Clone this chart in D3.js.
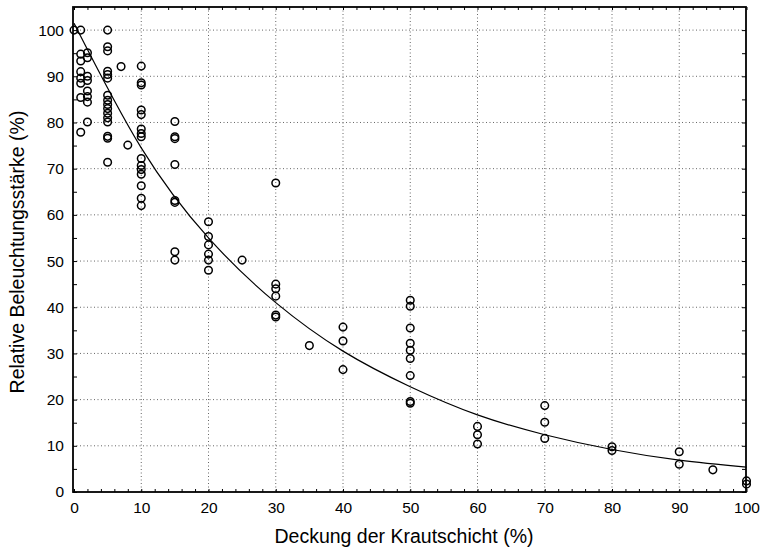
<!DOCTYPE html>
<html>
<head>
<meta charset="utf-8">
<script src="https://cdn.jsdelivr.net/npm/d3@7"></script>
<style>
  body { margin: 0; background: #fff; }
  text { font-family: "Liberation Sans", Arial, sans-serif; fill: #000; }
</style>
</head>
<body>
<div id="chart"></div>
<script>
// data: Deckung der Krautschicht (%) vs. relative Beleuchtungsstärke (%)
const cover = [
  0,
  1, 1, 1, 1, 1, 1, 1, 1,
  2, 2, 2, 2, 2, 2, 2, 2,
  5, 5, 5, 5, 5, 5, 5, 5, 5, 5, 5, 5, 5, 5, 5, 5,
  7, 8,
  10, 10, 10, 10, 10, 10, 10, 10, 10, 10, 10, 10, 10, 10, 10,
  15, 15, 15, 15, 15, 15, 15, 15,
  20, 20, 20, 20, 20, 20,
  25,
  30, 30, 30, 30, 30, 30,
  35,
  40, 40, 40,
  50, 50, 50, 50, 50, 50, 50, 50, 50,
  60, 60, 60,
  70, 70, 70,
  80, 80,
  90, 90,
  95,
  100, 100
]
const light = [
  100,
  100, 94.8, 93.3, 91, 89.6, 88.5, 85.4, 77.9,
  95.1, 94, 90, 89.1, 86.8, 85.6, 84.4, 80.1,
  100, 96.4, 95.5, 91.1, 90.4, 89.6, 85.9, 84.8, 83.9, 83, 82, 81, 80.1, 77, 76.6, 71.4,
  92.1, 75.1,
  92.2, 88.6, 88.1, 82.7, 81.7, 78.6, 77.6, 76.9, 72.2, 70.7, 69.8, 68.8, 66.3, 63.6, 62,
  80.2, 76.9, 76.5, 70.9, 63.1, 62.7, 52, 50.2,
  58.5, 55.3, 53.5, 51.5, 50.2, 48,
  50.2,
  66.9, 45, 44, 42.4, 38.3, 37.9,
  31.7,
  35.7, 32.7, 26.5,
  41.5, 40.2, 35.5, 32.2, 30.7, 28.9, 25.2, 19.6, 19.2,
  14.2, 12.4, 10.4,
  18.7, 15.1, 11.6,
  9.8, 9.0,
  8.7, 6.0,
  4.8,
  2.4, 1.7
]

// fitted curve at every 10 %
const fitX = [0, 10, 20, 30, 40, 50, 60, 70, 80, 90, 100]
const fitY = [101.5, 74.5, 55, 41, 30.5, 22.8, 16.7, 12.4, 9.2, 6.9, 5.4]

const xTicks = [0, 10, 20, 30, 40, 50, 60, 70, 80, 90, 100]
const yTicks = [0, 10, 20, 30, 40, 50, 60, 70, 80, 90, 100]

const xTitle = "Deckung der Krautschicht (%)"
const yTitle = "Relative Beleuchtungsstärke (%)"

// const
const width = 765
const height = 550
const frame = { left: 73, right: 746, top: 7, bottom: 492 }

const svg = d3.select("#chart")
    .append("svg")
      .attr("width", width)
      .attr("height", height)

const x = d3.scaleLinear()
    .domain([0, 100])
    .range([74, 746.5])

const y = d3.scaleLinear()
    .domain([0, 105])
    .range([492, 7])

// gridlines (dotted)
let grid = svg.append("g").attr("id", "grid")
    .attr("stroke", "#666")
    .attr("stroke-width", 1)
    .attr("stroke-dasharray", "1,2.5")

grid.selectAll(".vline")
    .data(xTicks.filter(d => d > 0 && d < 100))
    .join("line")
      .attr("class", "vline")
      .attr("x1", d => x(d)).attr("x2", d => x(d))
      .attr("y1", frame.top).attr("y2", frame.bottom)

grid.selectAll(".hline")
    .data(yTicks.filter(d => d > 0))
    .join("line")
      .attr("class", "hline")
      .attr("x1", frame.left).attr("x2", frame.right)
      .attr("y1", d => y(d)).attr("y2", d => y(d))

// minor ticks, pointing inwards
let minor = svg.append("g").attr("id", "minor")
const xMinor = d3.range(0, 101, 2)
const yMinor = d3.range(0, 105, 5)

minor.append("g")
    .attr("transform", `translate(0,${frame.bottom})`)
    .call(d3.axisBottom(x).tickValues(xMinor).tickSize(-3).tickFormat(""))
minor.append("g")
    .attr("transform", `translate(0,${frame.top})`)
    .call(d3.axisTop(x).tickValues(xMinor).tickSize(-3).tickFormat(""))
minor.append("g")
    .attr("transform", `translate(${frame.left},0)`)
    .call(d3.axisLeft(y).tickValues(yMinor).tickSize(-4).tickFormat(""))
minor.append("g")
    .attr("transform", `translate(${frame.right},0)`)
    .call(d3.axisRight(y).tickValues(yMinor).tickSize(-4).tickFormat(""))
minor.selectAll(".domain").remove()
minor.selectAll("line").attr("stroke", "#000").attr("stroke-width", 1)

// labelled axes
let xAxisGroup = svg.append("g")
    .attr("id", "xAxisGroup")
    .attr("transform", `translate(0,${frame.bottom})`)
    .call(d3.axisBottom(x).tickValues(xTicks).tickSize(0).tickPadding(10))
let yAxisGroup = svg.append("g")
    .attr("id", "yAxisGroup")
    .attr("transform", `translate(${frame.left},0)`)
    .call(d3.axisLeft(y).tickValues(yTicks).tickSize(0).tickPadding(9))

svg.selectAll("#xAxisGroup .domain, #yAxisGroup .domain").remove()
svg.selectAll("#xAxisGroup text, #yAxisGroup text")
    .style("font-size", "15.5px")
    .style("font-family", "'Liberation Sans', Arial, sans-serif")
    .attr("fill", "#000")

// frame
svg.append("rect")
    .attr("x", frame.left).attr("y", frame.top)
    .attr("width", frame.right - frame.left).attr("height", frame.bottom - frame.top)
    .attr("fill", "none")
    .attr("stroke", "#000")
    .attr("stroke-width", 1.8)

// fitted curve
svg.append("path")
    .datum(fitX.map((d, i) => [d, fitY[i]]))
    .attr("fill", "none")
    .attr("stroke", "#000")
    .attr("stroke-width", 1.2)
    .attr("d", d3.line()
        .x(d => x(d[0]))
        .y(d => y(d[1]))
        .curve(d3.curveNatural))

// points
svg.append("g").attr("id", "points")
  .selectAll("circle")
  .data(cover.map((d, i) => [d, light[i]]))
  .join("circle")
    .attr("cx", d => x(d[0]))
    .attr("cy", d => y(d[1]))
    .attr("r", 3.8)
    .attr("fill", "none")
    .attr("stroke", "#000")
    .attr("stroke-width", 1.5)

// titles
svg.append("text")
    .attr("x", 404)
    .attr("y", 543)
    .attr("text-anchor", "middle")
    .style("font-size", "19.5px")
    .text(xTitle)

svg.append("text")
    .attr("transform", "translate(24,252) rotate(-90)")
    .attr("text-anchor", "middle")
    .style("font-size", "19.5px")
    .text(yTitle)
</script>
</body>
</html>
